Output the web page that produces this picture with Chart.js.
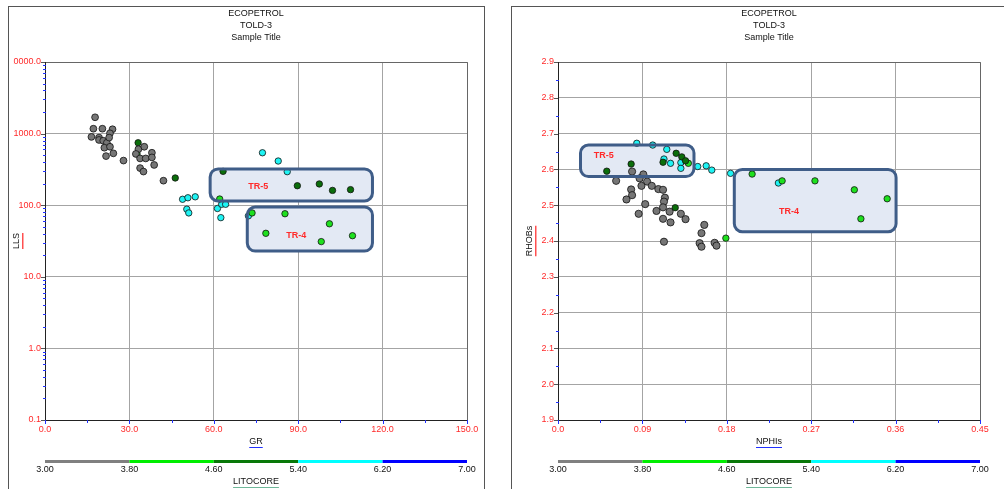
<!DOCTYPE html>
<html>
<head>
<meta charset="utf-8">
<script src="https://cdn.jsdelivr.net/npm/chart.js@4.4.1/dist/chart.umd.min.js"></script>
<style>
body { margin:0; background:#fff; width:1004px; height:489px; overflow:hidden; position:relative; }
.panel { position:absolute; top:6px; height:500px; border:1px solid #555; border-bottom:none; }
#p1 { left:8px; width:475px; }
#p2 { left:511px; width:520px; border-right:none; }
canvas { position:absolute; }
#c1 { left:13px; top:7px; }
#c2 { left:512px; top:7px; }
</style>
</head>
<body>
<div class="panel" id="p1"></div>
<div class="panel" id="p2"></div>
<canvas id="c1" width="470" height="482"></canvas>
<canvas id="c2" width="492" height="482"></canvas>
<script>
// chart titles
let titleLines = ['ECOPETROL', 'TOLD-3', 'Sample Title'];

// LITOCORE colour bands
let litoBands = [3.00, 3.80, 4.60, 5.40, 6.20, 7.00],
    litoColors = ['#808080', '#00ee00', '#087808', '#00ffff', '#0000ff'];

// --- chart 1 : GR vs LLS ---
let grTicks = [0, 30, 60, 90, 120, 150],
    grMinor = [15, 45, 75, 105, 135],
    llsTicks = [0.1, 1, 10, 100, 1000, 10000];

let grGray = [17.8, 17.2, 20.4, 24.0, 16.5, 19.2, 23.1, 19.2, 20.7, 22.0, 22.8, 21.1, 23.1, 24.3, 21.7, 27.9, 33.2, 35.3, 32.3, 33.8, 35.8, 38.0, 38.0, 33.8, 35.0, 38.8, 42.1],
    llsGray = [1690, 1170, 1170, 1150, 900, 880, 1010, 815, 795, 745, 880, 635, 655, 530, 485, 420, 605, 655, 520, 450, 450, 540, 465, 330, 295, 365, 220];
let grGreen = [32.7, 62.1, 73.6, 85.3, 78.5, 101.1, 98.2, 109.3],
    llsGreen = [520, 122, 78, 76, 40.5, 55, 31, 37.5];
let grDark = [33.1, 46.3, 63.3, 89.7, 97.5, 102.2, 108.6],
    llsDark = [745, 240, 297, 187, 198, 161, 165];
let grCyan = [48.9, 50.8, 53.4, 50.4, 51.1, 61.3, 62.5, 62.8, 64.2, 77.3, 82.9, 86.1, 72.3],
    llsCyan = [121, 127, 131, 88, 78, 90, 67, 103, 103, 540, 414, 294, 71];

// zones (TR-5, TR-4)
let zoneNames = ['TR-5', 'TR-4'];
let grZoneMin = [58.7, 71.9], grZoneMax = [116.4, 116.4],
    llsZoneMin = [114.6, 22.9], llsZoneMax = [321, 94.4],
    grZoneLabel = [75.8, 89.3], llsZoneLabel = [185, 37.2];

// --- chart 2 : NPHIs vs RHOBs ---
let nphiTicks = [0, 0.09, 0.18, 0.27, 0.36, 0.45],
    nphiMinor = [0.045, 0.135, 0.225, 0.315, 0.405],
    rhobTicks = [1.9, 2.0, 2.1, 2.2, 2.3, 2.4, 2.5, 2.6, 2.7, 2.8, 2.9],
    rhobMinor = [1.95, 2.05, 2.15, 2.25, 2.35, 2.45, 2.55, 2.65, 2.75, 2.85];

let nphiGray = [0.062, 0.079, 0.091, 0.087, 0.095, 0.089, 0.100, 0.107, 0.112, 0.078, 0.079, 0.073, 0.093, 0.114, 0.113, 0.112, 0.105, 0.086, 0.119, 0.131, 0.112, 0.136, 0.120, 0.156, 0.153, 0.113, 0.151, 0.153, 0.167, 0.169],
    rhobGray = [2.568, 2.594, 2.586, 2.575, 2.566, 2.554, 2.554, 2.545, 2.543, 2.544, 2.528, 2.516, 2.503, 2.521, 2.510, 2.494, 2.484, 2.476, 2.482, 2.476, 2.462, 2.461, 2.452, 2.445, 2.422, 2.398, 2.394, 2.384, 2.395, 2.387];
let nphiGreen = [0.139, 0.179, 0.207, 0.239, 0.274, 0.316, 0.351, 0.323],
    rhobGreen = [2.617, 2.408, 2.587, 2.568, 2.568, 2.543, 2.518, 2.462];
let nphiDark = [0.052, 0.078, 0.126, 0.132, 0.136, 0.112, 0.125],
    rhobDark = [2.595, 2.615, 2.645, 2.635, 2.624, 2.620, 2.493];
let nphiCyan = [0.084, 0.101, 0.116, 0.113, 0.120, 0.131, 0.131, 0.149, 0.158, 0.164, 0.184, 0.235],
    rhobCyan = [2.673, 2.668, 2.656, 2.629, 2.617, 2.619, 2.603, 2.608, 2.610, 2.598, 2.589, 2.562];

let nphiZoneMin = [0.024, 0.188], nphiZoneMax = [0.145, 0.3605],
    rhobZoneMin = [2.580, 2.426], rhobZoneMax = [2.668, 2.600],
    nphiZoneLabel = [0.0488, 0.2463], rhobZoneLabel = [2.640, 2.481];


const FONT = '"Liberation Sans", Arial, sans-serif';
const RED = '#ff2a2a';

function pts(xs, ys) {
    return xs.map(function(x, i) { return { x: x, y: ys[i] }; });
}

function set(label, xs, ys, color, r) {
    return {
        label: label,
        data: pts(xs, ys),
        backgroundColor: color,
        borderColor: '#111',
        borderWidth: 0.8,
        pointRadius: r,
        pointHoverRadius: r
    };
}

function roundBox(ctx, x, y, w, h, r) {
    ctx.beginPath();
    ctx.moveTo(x + r, y);
    ctx.arcTo(x + w, y, x + w, y + h, r);
    ctx.arcTo(x + w, y + h, x, y + h, r);
    ctx.arcTo(x, y + h, x, y, r);
    ctx.arcTo(x, y, x + w, y, r);
    ctx.closePath();
}

// draws the zones, titles, axis names, ticks and the LITOCORE bar
function makeDecor(cfg) {
    function zonePaths(chart, fn) {
        let xs = chart.scales.x, ys = chart.scales.y;
        cfg.zones.names.forEach(function(name, i) {
            let x1 = xs.getPixelForValue(cfg.zones.x1[i]),
                x2 = xs.getPixelForValue(cfg.zones.x2[i]),
                y1 = ys.getPixelForValue(cfg.zones.y2[i]),
                y2 = ys.getPixelForValue(cfg.zones.y1[i]);
            roundBox(chart.ctx, x1, y1, x2 - x1, y2 - y1, 8);
            fn(name, i);
        });
    }
    return {
        id: 'decor',
        beforeDatasetsDraw(chart) {
            let ctx = chart.ctx;
            ctx.save();
            zonePaths(chart, function() {
                ctx.fillStyle = '#e3e9f4';
                ctx.fill();
            });
            ctx.restore();
        },
        afterDatasetsDraw(chart) {
            let ctx = chart.ctx, xs = chart.scales.x, ys = chart.scales.y;
            ctx.save();
            zonePaths(chart, function(name, i) {
                ctx.lineWidth = 3;
                ctx.strokeStyle = '#3f5d88';
                ctx.stroke();
                ctx.fillStyle = RED;
                ctx.font = 'bold 9px ' + FONT;
                ctx.textAlign = 'center';
                ctx.textBaseline = 'middle';
                ctx.fillText(name, xs.getPixelForValue(cfg.zones.lx[i]), ys.getPixelForValue(cfg.zones.ly[i]));
            });
            ctx.restore();
        },
        afterDraw(chart) {
            let ctx = chart.ctx, a = chart.chartArea, xs = chart.scales.x, ys = chart.scales.y;
            let cx = (a.left + a.right) / 2;
            ctx.save();

            // plot frame
            ctx.lineWidth = 1;
            ctx.strokeStyle = '#666';
            ctx.beginPath();
            ctx.moveTo(a.left, a.top + 0.5); ctx.lineTo(a.right + 0.5, a.top + 0.5);
            ctx.lineTo(a.right + 0.5, a.bottom);
            ctx.stroke();
            ctx.strokeStyle = '#222';
            ctx.beginPath();
            ctx.moveTo(a.left + 0.5, a.top); ctx.lineTo(a.left + 0.5, a.bottom + 0.5);
            ctx.lineTo(a.right + 1, a.bottom + 0.5);
            ctx.stroke();

            // ticks
            ctx.strokeStyle = '#2030ff';
            ctx.beginPath();
            cfg.xMajor.forEach(function(v) {
                let x = Math.round(xs.getPixelForValue(v)) + 0.5;
                ctx.moveTo(x, a.bottom); ctx.lineTo(x, a.bottom + 4);
            });
            cfg.xMinor.forEach(function(v) {
                let x = Math.round(xs.getPixelForValue(v)) + 0.5;
                ctx.moveTo(x, a.bottom); ctx.lineTo(x, a.bottom + 3);
            });
            cfg.yMinor.forEach(function(v) {
                let y = Math.round(ys.getPixelForValue(v)) + 0.5;
                ctx.moveTo(a.left - 2, y); ctx.lineTo(a.left + 1, y);
            });
            ctx.stroke();
            ctx.strokeStyle = '#555';
            ctx.beginPath();
            cfg.yMajor.forEach(function(v) {
                let y = Math.round(ys.getPixelForValue(v)) + 0.5;
                ctx.moveTo(a.left - 4, y); ctx.lineTo(a.left, y);
            });
            ctx.stroke();

            // titles
            ctx.fillStyle = '#111';
            ctx.font = '9px ' + FONT;
            ctx.textAlign = 'center';
            ctx.textBaseline = 'middle';
            titleLines.forEach(function(t, i) {
                ctx.fillText(t, cx, a.top - 48 + i * 12);
            });

            // x axis name
            ctx.fillText(cfg.xTitle, cx, a.bottom + 22);
            let w = ctx.measureText(cfg.xTitle).width;
            ctx.fillStyle = '#2030ff';
            ctx.fillRect(cx - w / 2, a.bottom + 27, w, 1);

            // y axis name
            ctx.save();
            ctx.translate(a.left - 28, (a.top + a.bottom) / 2);
            ctx.rotate(-Math.PI / 2);
            ctx.fillStyle = '#111';
            ctx.fillText(cfg.yTitle, 0, 0);
            w = ctx.measureText(cfg.yTitle).width;
            ctx.fillStyle = '#ff5050';
            ctx.fillRect(-w / 2, 5, w, 1.5);
            ctx.restore();

            // LITOCORE bar
            let span = a.right - a.left,
                lo = litoBands[0], hi = litoBands[litoBands.length - 1];
            function bx(v) { return a.left + (v - lo) / (hi - lo) * span; }
            litoColors.forEach(function(c, i) {
                ctx.fillStyle = c;
                ctx.fillRect(bx(litoBands[i]), a.bottom + 40, bx(litoBands[i + 1]) - bx(litoBands[i]), 3);
            });
            ctx.fillStyle = '#111';
            litoBands.forEach(function(v) {
                ctx.fillText(v.toFixed(2), bx(v), a.bottom + 50);
            });
            ctx.fillText('LITOCORE', cx, a.bottom + 62);
            w = ctx.measureText('LITOCORE').width;
            ctx.fillStyle = '#6fb89a';
            ctx.fillRect(cx - w / 2, a.bottom + 67, w, 1);

            ctx.restore();
        }
    };
}

function tickOpts(cb) {
    return {
        color: RED,
        font: { size: 9, family: FONT },
        autoSkip: false,
        maxRotation: 0,
        padding: 4,
        callback: cb
    };
}

function makeChart(id, datasets, xCfg, yCfg, padRight, yWidth, decor) {
    return new Chart(document.getElementById(id).getContext('2d'), {
        type: 'scatter',
        data: { datasets: datasets },
        options: {
            responsive: false,
            animation: false,
            devicePixelRatio: 1,
            layout: { padding: { top: 55, right: padRight, bottom: 0, left: 0 } },
            plugins: { legend: { display: false }, tooltip: { enabled: false } },
            scales: {
                x: Object.assign({
                    afterFit: function(s) { s.height = 69; },
                    grid: { color: '#a4a4a4', drawTicks: false },
                    border: { display: false }
                }, xCfg),
                y: Object.assign({
                    afterFit: function(s) { s.width = yWidth; },
                    grid: { color: '#a4a4a4', drawTicks: false },
                    border: { display: false }
                }, yCfg)
            }
        },
        plugins: [decor]
    });
}

makeChart('c1', [
        set('3.00-3.80', grGray, llsGray, '#767676', 3.4),
        set('4.60-5.40', grDark, llsDark, '#0b6e0b', 3.2),
        set('3.80-4.60', grGreen, llsGreen, '#1ee01e', 3.2),
        set('5.40-6.20', grCyan, llsCyan, '#1ef4f4', 3.2)
    ], {
        type: 'linear', min: 0, max: 150,
        afterBuildTicks: function(s) { s.ticks = grTicks.map(function(v) { return { value: v }; }); },
        ticks: tickOpts(function(v) { return Number(v).toFixed(1); })
    }, {
        type: 'logarithmic', min: 0.1, max: 10000,
        afterBuildTicks: function(s) { s.ticks = llsTicks.map(function(v) { return { value: v }; }); },
        ticks: tickOpts(function(v) { return Number(v).toFixed(1); })
    }, 16, 32,
    makeDecor({
        xTitle: 'GR', yTitle: 'LLS',
        xMajor: grTicks, xMinor: grMinor,
        yMajor: llsTicks,
        yMinor: [].concat.apply([], [0.1, 1, 10, 100, 1000].map(function(d) {
            return [2, 3, 4, 5, 6, 7, 8, 9].map(function(k) { return k * d; });
        })),
        zones: { names: zoneNames, x1: grZoneMin, x2: grZoneMax, y1: llsZoneMin, y2: llsZoneMax, lx: grZoneLabel, ly: llsZoneLabel }
    }));

makeChart('c2', [
        set('3.00-3.80', nphiGray, rhobGray, '#767676', 3.6),
        set('4.60-5.40', nphiDark, rhobDark, '#0b6e0b', 3.2),
        set('3.80-4.60', nphiGreen, rhobGreen, '#1ee01e', 3.2),
        set('5.40-6.20', nphiCyan, rhobCyan, '#1ef4f4', 3.2)
    ], {
        type: 'linear', min: 0, max: 0.45,
        afterBuildTicks: function(s) { s.ticks = nphiTicks.map(function(v) { return { value: v }; }); },
        ticks: tickOpts(function(v) { return v === 0 ? '0.0' : Number(v).toFixed(2); })
    }, {
        type: 'linear', min: 1.9, max: 2.9,
        afterBuildTicks: function(s) { s.ticks = rhobTicks.map(function(v) { return { value: v }; }); },
        ticks: tickOpts(function(v) { return Number(v).toFixed(1); })
    }, 24, 46,
    makeDecor({
        xTitle: 'NPHIs', yTitle: 'RHOBs',
        xMajor: nphiTicks, xMinor: nphiMinor,
        yMajor: rhobTicks, yMinor: rhobMinor,
        zones: { names: zoneNames, x1: nphiZoneMin, x2: nphiZoneMax, y1: rhobZoneMin, y2: rhobZoneMax, lx: nphiZoneLabel, ly: rhobZoneLabel }
    }));
</script>
</body>
</html>
